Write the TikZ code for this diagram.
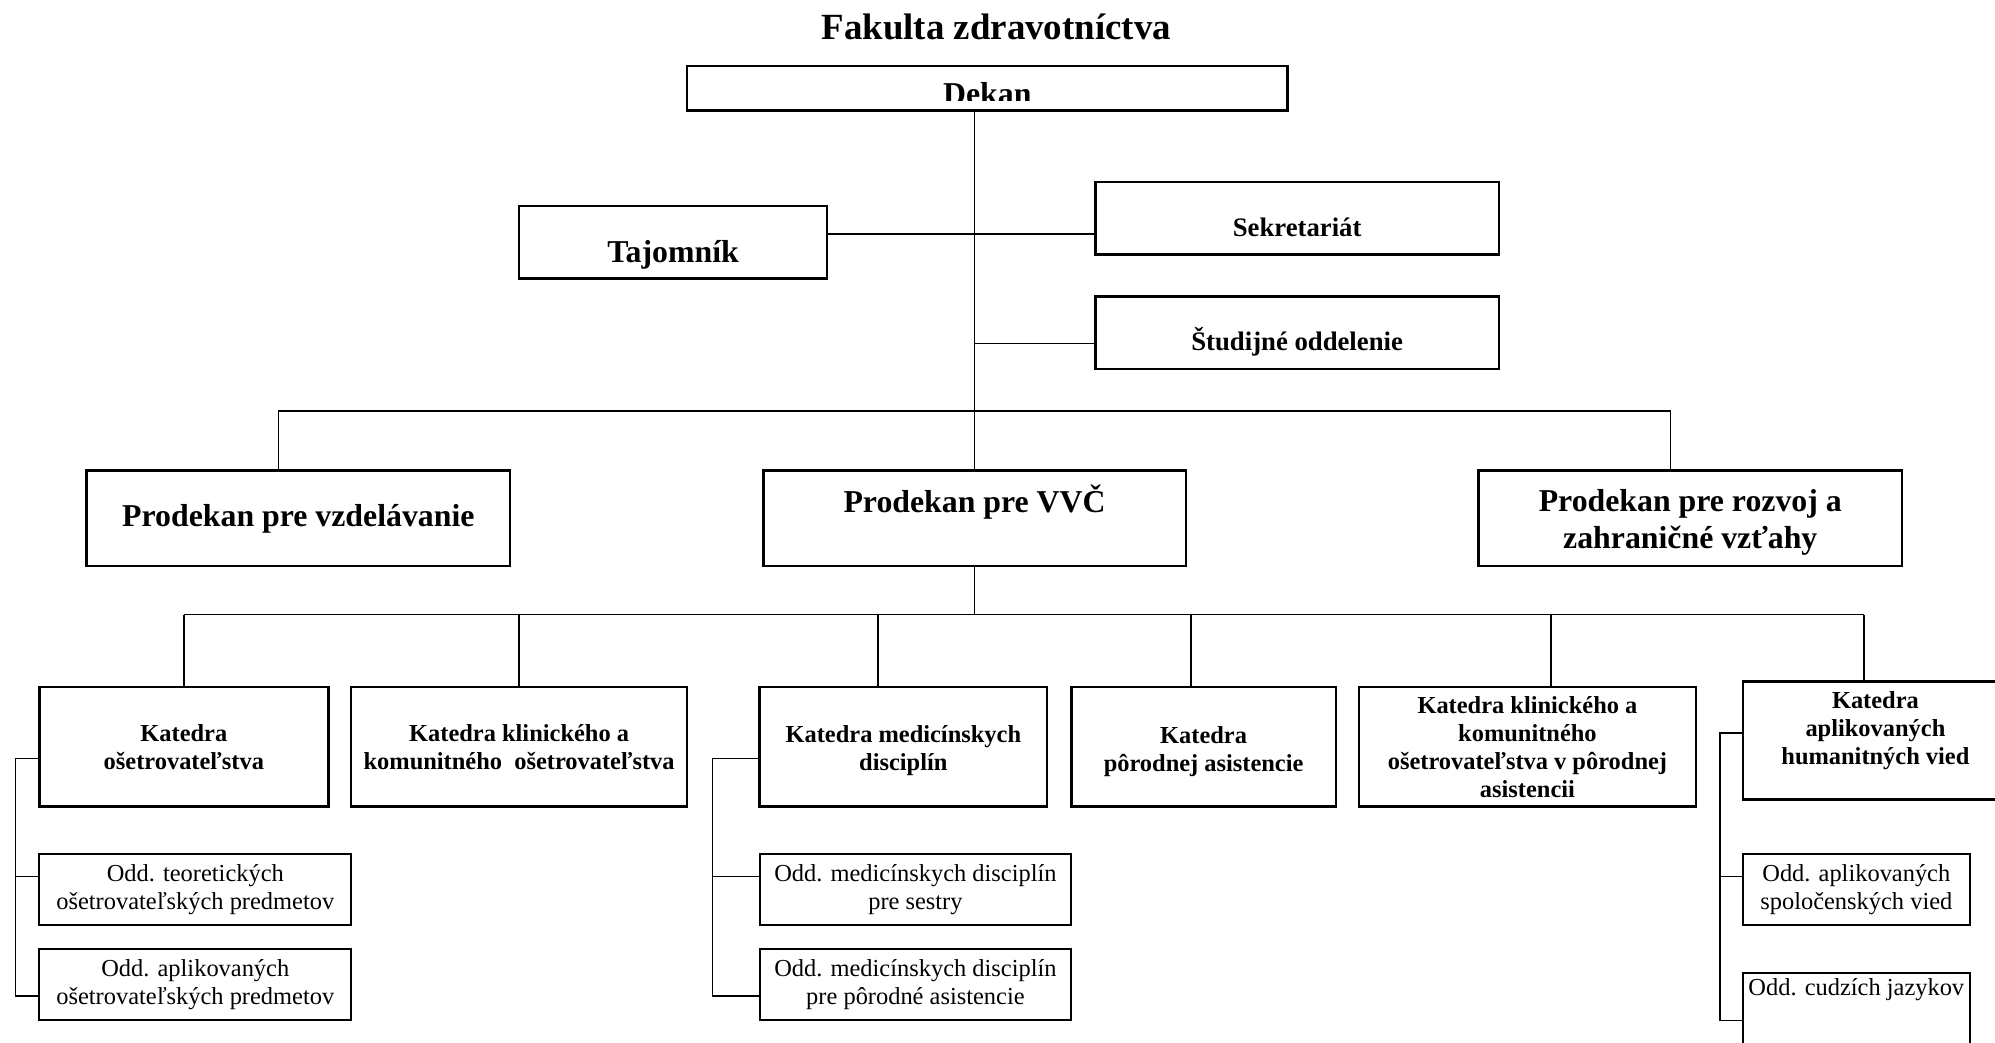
\documentclass[tikz,border=0pt]{standalone}
\usepackage{fontspec}
\setmainfont{Liberation Serif}
\usetikzlibrary{positioning}

\tikzset{
  head/.style={draw, line width=1pt, inner sep=1pt, outer sep=0pt, align=center,
    font=\bfseries\fontsize{12.5}{14.5}\selectfont},
  office/.style={head, font=\bfseries\fontsize{10.5}{12.5}\selectfont,
    minimum width=158.5pt, minimum height=28.5pt},
  katedra/.style={draw, line width=1pt, inner sep=1pt, outer sep=0pt, align=center,
    minimum height=47pt, font=\bfseries\fontsize{9.6}{11}\selectfont},
  oddelenie/.style={draw, line width=0.8pt, inner sep=1pt, outer sep=0pt, align=center,
    minimum width=122.5pt, minimum height=28pt, font=\fontsize{9.6}{11}\selectfont},
  link/.style={line width=0.6pt},
}

\begin{document}
\begin{tikzpicture}[x=0.5pt, y=-0.5pt]
  \useasboundingbox (0,0) rectangle (1568,819);
  \clip (0,0) rectangle (1568,819);

  \node[font=\bfseries\fontsize{14.5}{17}\selectfont] (fakulta) at (783,21) {Fakulta zdravotníctva};

  % vedenie
  \node[head, minimum width=236pt, minimum height=17.5pt] (dekan) at (776,69.5) {};
  \begin{scope}
    \clip (dekan.north west) rectangle (dekan.east |- 0,79);
    \node[head, draw=none, anchor=base] at (dekan.center |- 0,82) {Dekan};
  \end{scope}
  \node[head, minimum width=121pt, minimum height=28.5pt] (tajomnik) at (529,190.5) {};
  \node[head, draw=none] at ([yshift=-5pt]tajomnik.center) {Tajomník};
  \node[office] (sekret) at (1019.5,171.5) {};
  \node[office, draw=none] at ([yshift=-3.5pt]sekret.center) {Sekretariát};
  \node[office] (studij) at (1019.5,261.5) {};
  \node[office, draw=none] at ([yshift=-3.5pt]studij.center) {Študijné oddelenie};

  % prodekani
  \node[head, minimum width=166.5pt, minimum height=37.5pt] (pvzd) at (234.5,407.5) {Prodekan pre vzdelávanie};
  \node[head, minimum width=166pt, minimum height=37.5pt] (pvvc) at (766,407.5) {};
  \node[head, draw=none] at ([yshift=6.5pt]pvvc.center) {Prodekan pre VVČ};
  \node[head, minimum width=166.5pt, minimum height=37.5pt] (proz) at (1328.5,407.5) {};
  \node[head, draw=none] at ([yshift=-1.5pt]proz.center) {Prodekan pre rozvoj a\\zahraničné vzťahy};

  % katedry
  \node[katedra, minimum width=113.5pt] (k1) at (144.5,587) {Katedra\\ošetrovateľstva};
  \node[katedra, minimum width=132pt] (k2) at (408,587) {Katedra klinického a\\komunitného\ \ ošetrovateľstva};
  \node[katedra, minimum width=113pt] (k3) at (710,587) {};
  \node[katedra, draw=none] at ([yshift=-1.5pt]k3.center) {Katedra medicínskych\\disciplín};
  \node[katedra, minimum width=104pt] (k4) at (946,587) {};
  \node[katedra, draw=none] at ([yshift=-2pt]k4.center) {Katedra\\pôrodnej asistencie};
  \node[katedra, minimum width=132.5pt] (k5) at (1200.5,587) {Katedra klinického a\\komunitného\\ošetrovateľstva v pôrodnej\\asistencii};
  \node[katedra, minimum width=104pt, minimum height=46.5pt] (k6) at (1474,582) {};
  \node[katedra, draw=none] at ([yshift=4pt]k6.center) {Katedra\\aplikovaných\\humanitných vied};

  % oddelenia
  \node[oddelenie, below right=18.5pt and 0pt of k1.south west] (o1) {Odd. teoretických\\ošetrovateľských predmetov};
  \node[oddelenie, below=9.5pt of o1] (o2) {Odd. aplikovaných\\ošetrovateľských predmetov};
  \node[oddelenie, below right=18.5pt and 0pt of k3.south west] (o3) {Odd. medicínskych disciplín\\pre sestry};
  \node[oddelenie, below=9.5pt of o3] (o4) {Odd. medicínskych disciplín\\pre pôrodné asistencie};
  \node[oddelenie, minimum width=89pt, below right=21.25pt and 0pt of k6.south west] (o5) {Odd. aplikovaných\\spoločenských vied};
  \node[oddelenie, minimum width=89pt, below=19pt of o5] (o6) {};
  \node[oddelenie, draw=none, anchor=north, minimum height=0pt] at ([yshift=-1pt]o6.north) {Odd. cudzích jazykov};

  % spojnice
  \coordinate (tj) at (766,184);
  \coordinate (sj) at (766,270);
  \coordinate (pbar) at (766,323);
  \coordinate (kbar) at (766,483);
  \draw[link] (dekan.south -| pvvc.north) -- (pvvc.north);
  \draw[link] (tajomnik.east |- tj) -- (sekret.west |- tj);
  \draw[link] (sj) -- (studij.west |- sj);
  \draw[link] ([xshift=-7.75pt]pvzd.north) |- (pbar) -| ([xshift=-7.75pt]proz.north);
  \draw[link] (pvvc.south) -- (kbar);
  \draw[link] (k1.north |- kbar) -- ([xshift=-4.5pt]k6.north |- kbar);
  \foreach \k/\dx in {k1/0, k2/0, k3/-10, k4/-5, k5/9.25, k6/-4.5}
    \draw[link] ([xshift=\dx pt]\k.north) -- ([xshift=\dx pt]\k.north |- kbar);

  \draw[link] ([yshift=-4.5pt]k1.west) -- ++(-9.5pt,0) |- ([yshift=-4.5pt]o2.west);
  \draw[link] ([yshift=5pt]o1.west) -- ++(-9.5pt,0);
  \draw[link] ([yshift=-4.5pt]k3.west) -- ++(-18.5pt,0) |- ([yshift=-4.5pt]o4.west);
  \draw[link] ([yshift=5pt]o3.west) -- ++(-18.5pt,0);
  \draw[link] ([yshift=3pt]k6.west) -- ++(-9pt,0) |- ([yshift=-4.5pt]o6.west);
  \draw[link] ([yshift=5pt]o5.west) -- ++(-9pt,0);
\end{tikzpicture}
\end{document}
